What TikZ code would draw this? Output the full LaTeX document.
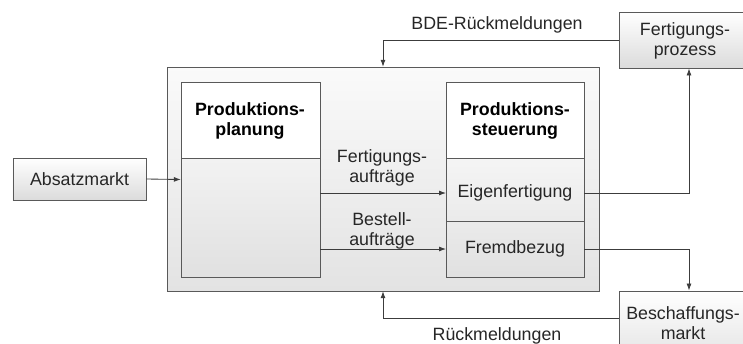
\documentclass[tikz,border=0pt]{standalone}
\usepackage{fontspec}
\setmainfont{Liberation Sans}
\usetikzlibrary{arrows.meta}
\definecolor{linec}{HTML}{3C3C3C}
\tikzset{
  px/.style={x=1bp,y=-1bp},
  conn/.style={draw=linec,line width=0.85bp,-{Latex[length=7bp,width=5bp]}},
  boxline/.style={draw=linec!85,line width=0.9bp},
  lbl/.style={font=\fontsize{17.8bp}{20bp}\selectfont,text=black!85,align=center,inner sep=0pt},
  blbl/.style={lbl,font=\fontsize{17.8bp}{20bp}\selectfont\bfseries,text=black},
}
\begin{document}
\begin{tikzpicture}[px]
\useasboundingbox (0,0) rectangle (743,343);
\clip (0,0) rectangle (743,343);
% outer frame
\path[boxline,top color=gray!4,bottom color=gray!22] (167,67) rectangle (599,291);
\node[inner sep=0pt,minimum width=432bp,minimum height=224bp] (outer) at (383,179) {};
% planning block
\path[boxline,fill=white] (181,82) rectangle (320,158);
\path[boxline,top color=gray!10,bottom color=gray!24] (181,158) rectangle (320,277);
\node[inner sep=0pt,minimum width=139bp,minimum height=195bp] (plan) at (250.5,179.5) {};
\node[blbl] (plant) at (250,121) {Produktions-\\planung};
% control block
\path[boxline,fill=white] (446,82) rectangle (584,158);
\path[boxline,top color=gray!8,bottom color=gray!16] (446,158) rectangle (584,221);
\path[boxline,top color=gray!16,bottom color=gray!24] (446,221) rectangle (584,277);
\node[blbl] (steut) at (515,121) {Produktions-\\steuerung};
\node[lbl] (eigen) at (515,193) {Eigenfertigung};
\node[lbl] (fremd) at (515,249) {Fremdbezug};
\coordinate (eigenL) at (446,193);
\coordinate (eigenR) at (584,193);
\coordinate (fremdL) at (446,249);
\coordinate (fremdR) at (584,249);
\coordinate (planE1) at (320,193);
\coordinate (planE2) at (320,249);
% external boxes
\node[boxline,top color=white,bottom color=gray!28,minimum width=133bp,minimum height=42bp,inner sep=0pt] (absatz) at (79.5,179) {};
\node[lbl] at (absatz) {Absatzmarkt};
\node[boxline,top color=white,bottom color=gray!28,minimum width=132bp,minimum height=56bp,inner sep=0pt] (fprozess) at (685,40) {};
\node[lbl] at (685,41) {Fertigungs-\\prozess};
\node[boxline,top color=white,bottom color=gray!20,minimum width=132bp,minimum height=64bp,inner sep=0pt] (beschaff) at (685,323) {};
\node[lbl] at (683,323) {Beschaffungs-\\markt};
% connectors
\draw[conn] (absatz.east) -- (plan.west);
\draw[conn] (planE1) -- (eigenL);
\draw[conn] (planE2) -- (fremdL);
\node[lbl] (lfa) at (382,168) {Fertigungs-\\aufträge};
\node[lbl] (lba) at (382,231) {Bestell-\\aufträge};
\draw[conn] (eigenR) -| (fprozess.south -| 689,0);
\draw[conn] (fremdR) -| (beschaff.north -| 689,0);
\draw[conn] (fprozess.west |- 0,40) -| (outer.north);
\draw[conn] (beschaff.west |- 0,318) -| (outer.south);
\node[lbl] (bde) at (497,25) {BDE-Rückmeldungen};
\node[lbl] (rm) at (497,336) {Rückmeldungen};
\end{tikzpicture}
\end{document}
